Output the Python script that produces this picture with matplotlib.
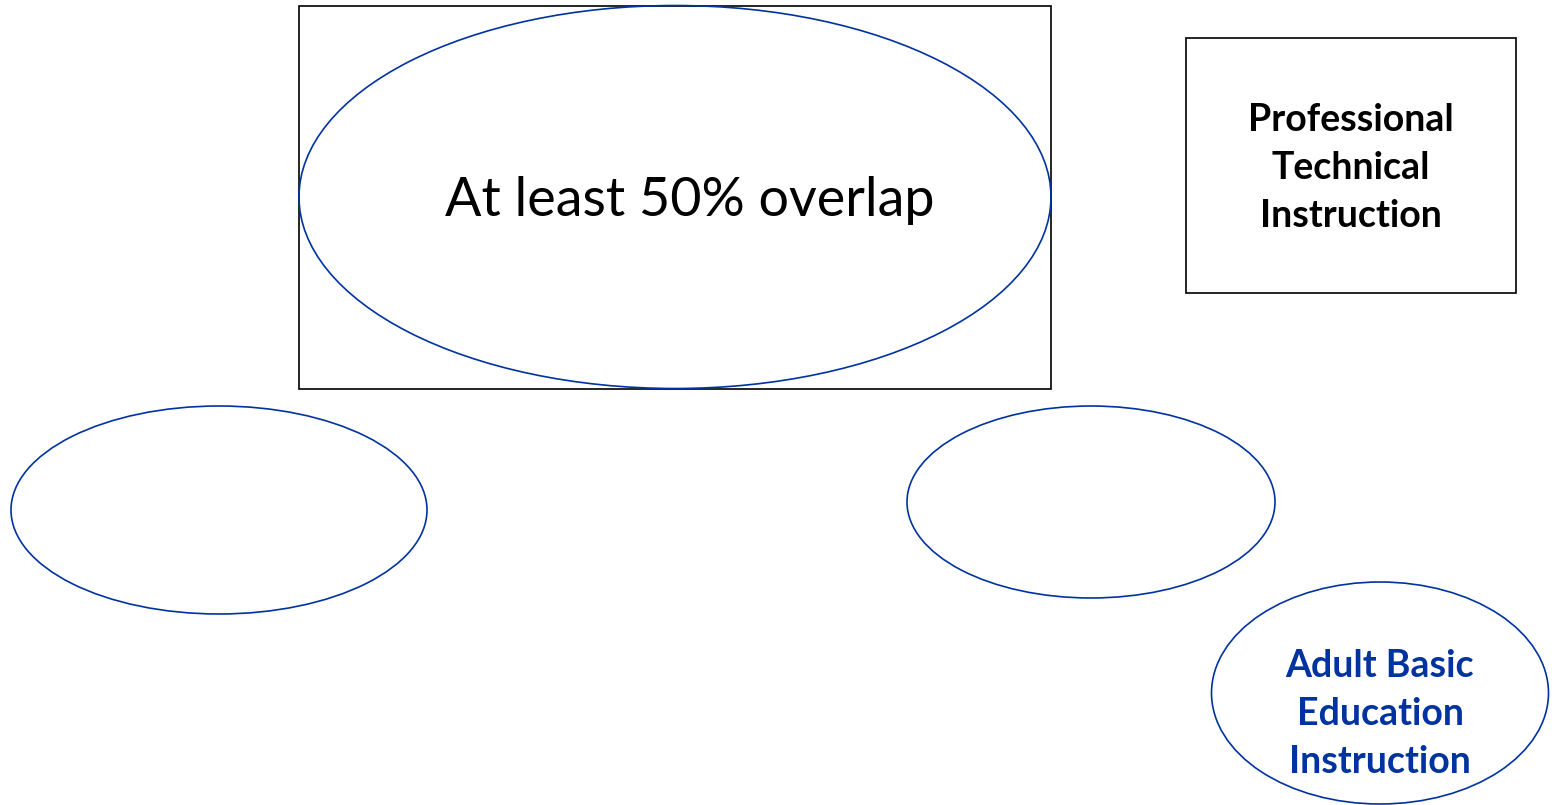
import matplotlib
matplotlib.use("Agg")
import matplotlib.pyplot as plt
from matplotlib.patches import Ellipse, Rectangle

W, H = 1554, 805
BLUE = "#0033A0"

# shapes (pixel layout of the diagram)
rect_labels = ["", "Professional\nTechnical\nInstruction"]
rects = [(299, 6, 752, 383), (1186, 38, 330, 255)]
ellipse_labels = ["At least 50% overlap", "", "", "Adult Basic\nEducation\nInstruction"]
ellipses = [(675, 197, 752, 383), (219, 510, 416, 208), (1091, 502, 368, 192), (1380, 693, 337, 222)]

fig = plt.figure(figsize=(W / 100, H / 100), dpi=100)
ax = fig.add_axes([0, 0, 1, 1])
ax.set_xlim(0, W)
ax.set_ylim(H, 0)
ax.axis("off")

for (x, y, w, h) in rects:
    ax.add_patch(Rectangle((x, y), w, h, fill=False, edgecolor="black", lw=1.2))
for (cx, cy, w, h) in ellipses:
    ax.add_patch(Ellipse((cx, cy), w, h, fill=False, edgecolor=BLUE, lw=1.2))

font = ["Lato", "DejaVu Sans"]
ax.text(690, 200, ellipse_labels[0], ha="center", va="center", fontsize=38.8, family=font, color="black")
ax.text(1351, 168, rect_labels[1], ha="center", va="center", fontsize=27, family=font,
        fontweight="bold", color="black", linespacing=1.5)
ax.text(1380, 714, ellipse_labels[3], ha="center", va="center", fontsize=27, family=font,
        fontweight="bold", color=BLUE, linespacing=1.5)

fig.savefig("out.png", dpi=100)
